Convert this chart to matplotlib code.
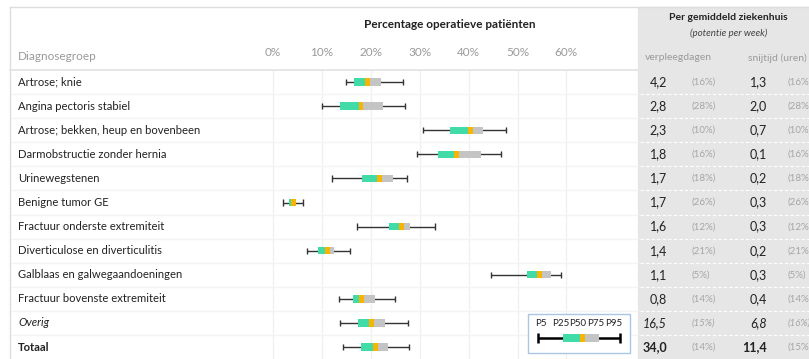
import numpy as np
import matplotlib
matplotlib.use("Agg")
import matplotlib.pyplot as plt
from matplotlib.patches import Rectangle
from matplotlib import transforms

# DATA
groepen = ["Artrose; knie", "Angina pectoris stabiel", "Artrose; bekken, heup en bovenbeen",
           "Darmobstructie zonder hernia", "Urinewegstenen", "Benigne tumor GE",
           "Fractuur onderste extremiteit", "Diverticulose en diverticulitis",
           "Galblaas en galwegaandoeningen", "Fractuur bovenste extremiteit", "Overig", "Totaal"]
p5 = [14.9, 10.0, 30.7, 29.5, 12.1, 2.1, 17.1, 7.0, 44.6, 13.4, 13.6, 14.3]
p25 = [16.6, 13.6, 36.1, 33.7, 18.2, 3.3, 23.7, 9.2, 52.0, 16.4, 17.4, 18.0]
p50 = [19.4, 18.0, 40.3, 37.5, 21.7, 4.2, 26.2, 11.2, 54.5, 18.1, 20.2, 20.9]
p75 = [22.0, 22.4, 43.0, 42.5, 24.5, 4.8, 28.0, 12.5, 56.8, 20.9, 22.9, 23.5]
p95 = [26.5, 26.9, 47.6, 46.7, 27.4, 6.2, 33.1, 15.7, 58.8, 24.9, 27.7, 27.9]
verpleegdagen = ["4,2", "2,8", "2,3", "1,8", "1,7", "1,7", "1,6", "1,4", "1,1", "0,8", "16,5", "34,0"]
verpleeg_pct = ["(16%)", "(28%)", "(10%)", "(16%)", "(18%)", "(26%)", "(12%)", "(21%)",
                "(5%)", "(14%)", "(15%)", "(14%)"]
snijtijd = ["1,3", "2,0", "0,7", "0,1", "0,2", "0,3", "0,3", "0,2", "0,3", "0,4", "6,8", "11,4"]
snijtijd_pct = ["(16%)", "(28%)", "(10%)", "(16%)", "(18%)", "(26%)", "(12%)", "(21%)",
                "(5%)", "(14%)", "(16%)", "(15%)"]
ticks = [0, 10, 20, 30, 40, 50, 60]
legend_vals = [54.2, 59.3, 63.3, 66.7, 71.0]
legend_labels = ["P5", "P25", "P50", "P75", "P95"]

GREEN = "#40dba6"
YELLOW = "#f7b500"
GREY = "#c4c4c4"
W, H = 809, 359
ZERO_PX, PX_PCT = 273, 4.89      # 0% position and pixels per percent
ROW0_PX, ROW_PX = 82, 24.1       # first row centre and row pitch

plt.rcParams['font.family'] = ['Lato', 'DejaVu Sans']

fig = plt.figure(figsize=(W / 100, H / 100), dpi=100)
ax = fig.add_axes([0, 0, 1, 1])
ax.set_xlim(-ZERO_PX / PX_PCT, (W - ZERO_PX) / PX_PCT)
ax.set_ylim((H - ROW0_PX) / ROW_PX, -ROW0_PX / ROW_PX)
ax.axis("off")

# pixel coords (top-left origin) -> figure
pxT = transforms.Affine2D().scale(1 / W, -1 / H).translate(0, 1) + fig.transFigure
rowT = transforms.blended_transform_factory(pxT, ax.transData)

def pct(px):
    return (px - ZERO_PX) / PX_PCT

def row(py):
    return (py - ROW0_PX) / ROW_PX

n = len(groepen)
y = np.arange(n)

# frame, header and grey panel
fig.add_artist(Rectangle((638, 7), 200, 400, transform=pxT, color="#e6e6e6", zorder=0))
fig.add_artist(plt.Line2D([10, W], [7, 7], transform=pxT, color="#dddddd", lw=1))
fig.add_artist(plt.Line2D([10, 10], [7, H], transform=pxT, color="#dddddd", lw=1))
fig.add_artist(plt.Line2D([10, 638], [70, 70], transform=pxT, color="#e2e2e2", lw=1.2))

ax.vlines(ticks, row(70), row(H), color="#f0f0f0", lw=1, zorder=1)
ax.hlines(y[:-1] + 0.5, pct(10), pct(638), color="#f4f4f4", lw=1, zorder=1)
ax.hlines(y[:-1] + 0.5, pct(640), pct(W), color="white", lw=0.8, ls=(0, (3, 2)), zorder=1)

# header texts
ax.text(pct(450), row(24), "Percentage operatieve patiënten", ha="center", va="center",
        fontsize=8.5, fontweight="bold", color="#222222")
for t in ticks:
    ax.text(t, row(53), f"{t}%", ha="center", va="center", fontsize=8.5, color="#9a9a9a")
ax.text(18, row(57), "Diagnosegroep", transform=rowT, ha="left", va="center",
        fontsize=8.5, color="#9a9a9a")
ax.text(728, row(18), "Per gemiddeld ziekenhuis", transform=rowT, ha="center", va="center",
        fontsize=7.5, fontweight="bold", color="#222222")
ax.text(729, row(33), "(potentie per week)", transform=rowT, ha="center", va="center",
        fontsize=7, style="italic", color="#444444")
ax.text(678, row(58), "verpleegdagen", transform=rowT, ha="center", va="center",
        fontsize=7.5, color="#9a9a9a")
ax.text(777, row(58), "snijtijd (uren)", transform=rowT, ha="center", va="center",
        fontsize=7.5, color="#9a9a9a")

# rows
for i in range(n):
    style = "italic" if groepen[i] == "Overig" else "normal"
    weight = "bold" if groepen[i] == "Totaal" else "normal"
    ax.text(18, i, groepen[i], transform=rowT, ha="left", va="center", fontsize=8.1,
            color="#222222", style=style, fontweight=weight)
    ax.text(667, i, verpleegdagen[i], transform=rowT, ha="right", va="center", fontsize=9,
            color="#222222", style=style, fontweight=weight)
    ax.text(692, i, verpleeg_pct[i], transform=rowT, ha="left", va="center", fontsize=7,
            color="#a5a5a5", style=style)
    ax.text(767, i, snijtijd[i], transform=rowT, ha="right", va="center", fontsize=9,
            color="#222222", style=style, fontweight=weight)
    ax.text(788, i, snijtijd_pct[i], transform=rowT, ha="left", va="center", fontsize=7,
            color="#a5a5a5", style=style)

def boxrow(yy, a, b, c, d, e, h=0.3, lw=1.0, cap=0.13):
    ax.hlines(yy, a, e, color="#333333", lw=lw, zorder=2)
    ax.vlines([a, e], yy - cap, yy + cap, color="#333333", lw=lw, zorder=2)
    ax.barh(yy, c - b, left=b, height=h, color=GREEN, zorder=3)
    ax.barh(yy, d - c, left=c, height=h, color=GREY, zorder=3)
    ax.barh(yy, 1.0, left=c - 0.5, height=h, color=YELLOW, zorder=4)

for i in range(n):
    boxrow(y[i], p5[i], p25[i], p50[i], p75[i], p95[i])

# legend
ax.add_patch(Rectangle((pct(528), row(314)), pct(630) - pct(528), row(353) - row(314),
                       facecolor="white", edgecolor="#a9c6e2", lw=1, zorder=5))
lab_x = [pct(541), pct(561), pct(578), pct(595.5), pct(614)]
for lx, lab in zip(lab_x, legend_labels):
    ax.text(lx, row(324), lab, ha="center", va="center", fontsize=7, color="#222222", zorder=6)
ly = row(338)
ax.hlines(ly, legend_vals[0], legend_vals[4], color="black", lw=1.8, zorder=6)
ax.vlines([legend_vals[0], legend_vals[4]], ly - 0.2, ly + 0.2, color="black", lw=1.8, zorder=6)
ax.barh(ly, legend_vals[2] - legend_vals[1], left=legend_vals[1], height=0.36, color=GREEN, zorder=7)
ax.barh(ly, legend_vals[3] - legend_vals[2], left=legend_vals[2], height=0.36, color=GREY, zorder=7)
ax.barh(ly, 1.0, left=legend_vals[2] - 0.5, height=0.36, color=YELLOW, zorder=8)

fig.savefig("out.png", dpi=100)
